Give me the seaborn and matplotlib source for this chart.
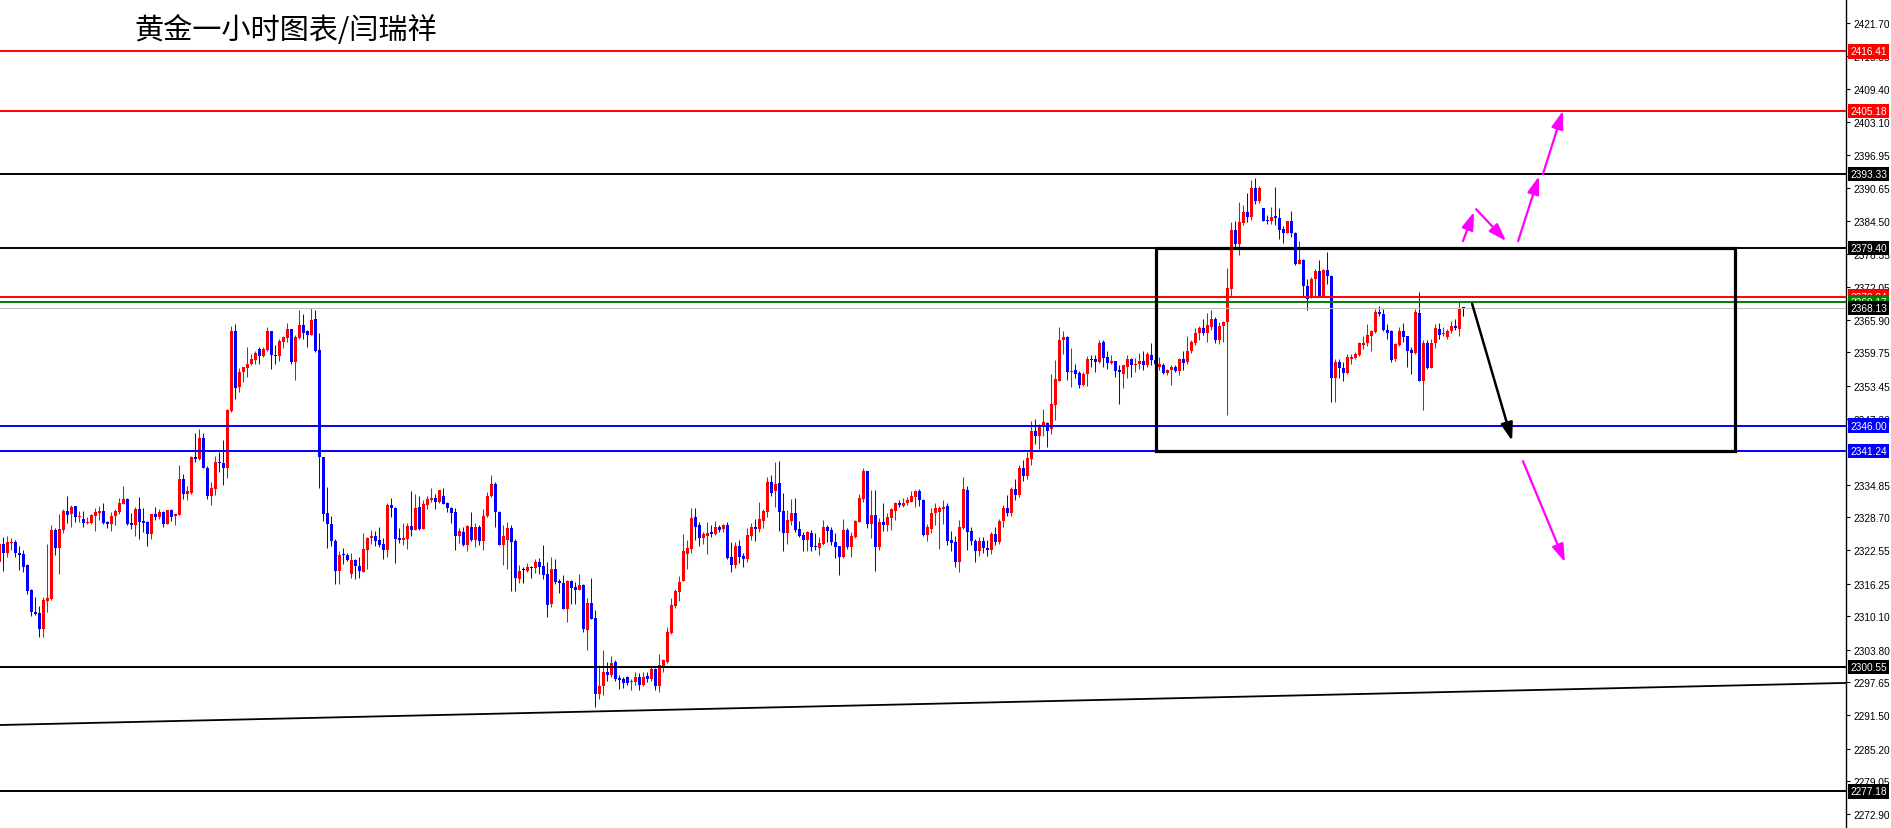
import numpy as np
import matplotlib
matplotlib.use("Agg")
import matplotlib.pyplot as plt
import matplotlib.transforms as mtransforms
from matplotlib.patches import Rectangle
import seaborn as sns

# 黄金 1小时K线 (读图估值)
opens = [
    2320.3, 2323.7, 2322.0, 2323.9, 2324.0, 2322.1, 2321.8, 2319.8, 2315.1, 2311.0,
    2310.7, 2307.8, 2312.9, 2313.4, 2326.4, 2323.0, 2326.4, 2329.9, 2329.3, 2330.8,
    2328.8, 2328.4, 2327.7, 2327.7, 2329.0, 2329.5, 2329.9, 2327.9, 2327.5, 2328.9,
    2329.7, 2331.3, 2332.2, 2327.7, 2327.3, 2330.2, 2328.0, 2327.8, 2325.6, 2329.4,
    2328.8, 2329.7, 2327.5, 2330.1, 2328.9, 2329.2, 2335.9, 2333.2, 2333.3, 2340.0,
    2339.7, 2343.7, 2338.1, 2332.8, 2334.1, 2339.2, 2339.0, 2338.1, 2348.7, 2363.7,
    2353.3, 2356.0, 2356.8, 2357.6, 2358.4, 2360.4, 2359.0, 2360.3, 2363.7, 2359.3,
    2359.0, 2361.8, 2362.4, 2364.2, 2358.0, 2362.5, 2364.9, 2363.7, 2363.1, 2366.1,
    2360.2, 2340.0, 2329.5, 2327.4, 2324.2, 2318.7, 2321.8, 2321.6, 2318.1, 2320.7,
    2319.6, 2318.5, 2322.6, 2324.8, 2325.2, 2324.5, 2323.7, 2322.6, 2331.1, 2330.5,
    2324.8, 2324.5, 2324.7, 2327.1, 2326.4, 2330.6, 2326.5, 2331.1, 2331.9, 2332.3,
    2331.6, 2332.7, 2331.5, 2330.5, 2329.8, 2325.3, 2326.0, 2323.6, 2327.0, 2324.5,
    2326.9, 2324.3, 2328.9, 2332.7, 2335.0, 2329.7, 2323.6, 2324.5, 2326.7, 2324.3,
    2317.1, 2318.75, 2318.7, 2319.4, 2319.2, 2320.4, 2319.6, 2318.1, 2312.4, 2319.0,
    2316.8, 2316.4, 2311.5, 2316.8, 2315.7, 2315.1, 2316.0, 2307.6, 2312.6, 2309.8,
    2295.5, 2297.0, 2299.7, 2299.1, 2301.6, 2298.5, 2298.3, 2298.6, 2297.7, 2297.7,
    2298.6, 2297.2, 2298.8, 2298.4, 2300.1, 2297.0, 2300.8, 2301.6, 2306.9, 2312.0,
    2314.7, 2316.8, 2321.8, 2322.8, 2328.8, 2327.2, 2324.8, 2325.3, 2325.9, 2325.6,
    2327.0, 2326.5, 2327.3, 2321.2, 2319.8, 2323.3, 2321.5, 2320.8, 2325.3, 2326.9,
    2326.5, 2328.1, 2329.8, 2335.3, 2333.6, 2335.1, 2329.9, 2325.8, 2328.1, 2329.5,
    2326.5, 2325.4, 2324.5, 2325.8, 2323.4, 2323.0, 2323.7, 2327.0, 2326.4, 2324.0,
    2323.3, 2321.2, 2326.4, 2323.1, 2325.0, 2327.9, 2332.2, 2337.4, 2327.4, 2329.2,
    2323.2, 2327.8, 2327.2, 2328.6, 2330.0, 2331.4, 2330.8, 2331.4, 2331.7, 2332.6,
    2333.7, 2332.0, 2325.4, 2326.5, 2329.5, 2329.8, 2330.3, 2330.8, 2324.5, 2324.0,
    2320.4, 2326.7, 2333.9, 2326.1, 2324.2, 2322.3, 2324.2, 2323.0, 2322.5, 2325.5,
    2324.0, 2328.0, 2330.5, 2329.5, 2334.0, 2333.0, 2338.0, 2336.5, 2339.7, 2345.0,
    2344.1, 2345.9, 2346.5, 2345.4, 2349.9, 2354.4, 2362.0, 2362.7, 2356.1, 2356.5,
    2355.9, 2353.6, 2355.6, 2358.5, 2358.5, 2358.0, 2361.7, 2358.8, 2357.7, 2358.2,
    2356.5, 2355.7, 2357.1, 2358.5, 2357.3, 2357.5, 2358.2, 2357.3, 2359.3, 2358.4,
    2357.0, 2357.4, 2355.8, 2356.5, 2357.0, 2356.3, 2358.5, 2357.9, 2360.0, 2361.5,
    2363.5, 2364.4, 2363.5, 2364.6, 2366.0, 2362.0, 2364.8, 2365.4, 2371.6, 2382.8,
    2380.2, 2384.1, 2386.2, 2385.3, 2390.7, 2388.2, 2386.9, 2384.7, 2384.4, 2385.4,
    2385.0, 2383.0, 2382.3, 2384.4, 2382.3, 2376.4, 2377.1, 2372.3, 2370.1, 2373.6,
    2375.1, 2370.1, 2375.3, 2374.2, 2354.9, 2357.9, 2356.8, 2355.8, 2358.6, 2358.7,
    2359.3, 2361.2, 2361.5, 2362.9, 2363.6, 2367.4, 2367.0, 2364.0, 2363.8, 2358.5,
    2361.2, 2363.8, 2362.8, 2360.2, 2359.6, 2367.2, 2354.4, 2361.6, 2356.8, 2361.5,
    2364.2, 2363.2, 2362.7, 2363.8, 2364.8, 2364.2, 2368.1,
]
highs = [
    2324.0, 2325.1, 2325.2, 2324.8, 2324.5, 2323.4, 2322.5, 2319.9, 2315.2, 2313.7,
    2312.1, 2313.7, 2323.7, 2327.3, 2326.8, 2329.4, 2330.3, 2332.7, 2331.1, 2330.9,
    2330.0, 2329.9, 2328.7, 2329.4, 2330.4, 2330.8, 2331.4, 2328.1, 2329.7, 2330.3,
    2332.4, 2334.6, 2332.4, 2329.5, 2330.6, 2332.5, 2330.5, 2328.1, 2329.4, 2330.7,
    2330.3, 2329.9, 2330.1, 2330.2, 2329.4, 2338.6, 2336.9, 2334.7, 2340.3, 2344.6,
    2345.3, 2344.6, 2338.3, 2335.3, 2340.3, 2341.0, 2343.3, 2349.1, 2364.8, 2365.1,
    2356.8, 2357.1, 2360.7, 2359.5, 2360.1, 2360.7, 2360.8, 2364.6, 2363.8, 2361.2,
    2362.2, 2362.9, 2365.3, 2364.2, 2363.0, 2367.7, 2367.0, 2363.9, 2368.2, 2367.7,
    2363.4, 2340.1, 2334.4, 2328.9, 2324.7, 2322.3, 2323.0, 2322.1, 2322.1, 2320.9,
    2321.2, 2325.8, 2325.0, 2326.4, 2326.1, 2326.9, 2324.8, 2331.4, 2332.3, 2330.6,
    2326.8, 2327.7, 2327.7, 2333.6, 2333.2, 2332.7, 2331.9, 2332.7, 2334.2, 2333.1,
    2333.9, 2334.3, 2331.7, 2330.6, 2330.4, 2326.7, 2327.0, 2327.3, 2329.7, 2327.7,
    2327.3, 2330.2, 2333.4, 2336.7, 2335.3, 2330.0, 2327.2, 2327.8, 2327.3, 2324.6,
    2319.8, 2319.3, 2320.1, 2319.6, 2320.9, 2321.0, 2323.6, 2320.4, 2321.2, 2320.8,
    2317.2, 2317.9, 2316.9, 2317.0, 2316.5, 2318.1, 2316.1, 2313.5, 2317.4, 2311.2,
    2301.0, 2303.8, 2301.6, 2302.7, 2301.8, 2299.1, 2298.6, 2298.9, 2298.3, 2299.7,
    2299.4, 2299.7, 2299.7, 2300.8, 2300.4, 2303.0, 2302.1, 2308.0, 2313.5, 2315.2,
    2317.6, 2325.5, 2324.5, 2330.4, 2330.5, 2327.8, 2325.9, 2327.8, 2327.3, 2328.0,
    2327.3, 2327.5, 2327.9, 2324.0, 2324.0, 2324.5, 2322.1, 2326.7, 2327.7, 2328.4,
    2331.6, 2330.3, 2336.3, 2336.7, 2339.1, 2339.3, 2333.3, 2330.1, 2332.2, 2332.4,
    2328.0, 2325.9, 2326.1, 2326.4, 2325.7, 2325.0, 2328.3, 2327.2, 2327.0, 2325.8,
    2323.4, 2328.5, 2326.7, 2325.9, 2328.3, 2333.1, 2338.0, 2337.5, 2333.9, 2333.9,
    2328.6, 2331.4, 2329.5, 2330.4, 2331.6, 2332.0, 2332.3, 2332.5, 2333.6, 2333.9,
    2334.1, 2332.2, 2327.5, 2330.5, 2331.4, 2330.9, 2332.0, 2331.4, 2326.1, 2325.2,
    2328.3, 2336.4, 2334.6, 2327.0, 2324.7, 2325.0, 2325.0, 2324.5, 2326.0, 2327.0,
    2328.5, 2331.0, 2333.0, 2334.5, 2336.0, 2338.5, 2339.5, 2341.0, 2346.9, 2347.2,
    2346.3, 2349.1, 2346.6, 2355.7, 2358.3, 2364.6, 2363.7, 2362.9, 2360.6, 2357.6,
    2356.3, 2356.0, 2359.0, 2359.3, 2359.2, 2362.1, 2362.0, 2360.0, 2359.3, 2358.2,
    2357.3, 2357.4, 2359.3, 2358.7, 2358.7, 2359.7, 2360.0, 2359.8, 2361.5, 2359.2,
    2358.8, 2357.8, 2356.6, 2357.3, 2357.4, 2358.7, 2360.0, 2362.9, 2362.0, 2364.4,
    2364.8, 2366.0, 2367.2, 2367.7, 2366.4, 2365.5, 2365.7, 2375.6, 2384.2, 2384.5,
    2388.1, 2387.5, 2389.7, 2392.2, 2392.6, 2391.1, 2387.0, 2385.7, 2387.2, 2390.8,
    2386.9, 2383.6, 2384.5, 2386.3, 2382.5, 2380.8, 2377.3, 2373.6, 2373.9, 2375.4,
    2377.2, 2375.4, 2378.7, 2374.3, 2358.5, 2358.5, 2357.9, 2359.5, 2359.5, 2359.8,
    2361.8, 2362.9, 2365.1, 2364.0, 2367.9, 2368.5, 2367.9, 2365.1, 2364.0, 2361.6,
    2364.5, 2365.3, 2362.9, 2360.7, 2367.9, 2371.1, 2362.0, 2362.0, 2362.2, 2365.1,
    2365.3, 2364.5, 2364.2, 2365.7, 2366.0, 2369.5, 2368.3,
]
lows = [
    2320.1, 2318.7, 2321.2, 2322.6, 2321.2, 2318.9, 2318.4, 2314.3, 2310.2, 2310.4,
    2306.2, 2306.2, 2311.0, 2313.2, 2321.6, 2318.1, 2325.8, 2327.7, 2327.0, 2327.9,
    2327.8, 2327.0, 2327.5, 2327.5, 2326.1, 2328.3, 2327.4, 2326.8, 2326.2, 2327.2,
    2329.4, 2331.2, 2327.2, 2326.5, 2325.3, 2324.7, 2326.0, 2323.3, 2324.7, 2328.3,
    2328.5, 2327.0, 2327.4, 2328.1, 2327.2, 2329.2, 2332.2, 2331.9, 2333.1, 2339.2,
    2339.6, 2338.0, 2332.1, 2331.1, 2332.9, 2337.3, 2334.8, 2336.1, 2348.5, 2350.9,
    2352.4, 2354.1, 2355.1, 2357.3, 2357.6, 2357.6, 2358.8, 2360.1, 2356.6, 2357.6,
    2358.2, 2360.5, 2361.8, 2357.5, 2354.6, 2362.3, 2362.3, 2360.8, 2363.0, 2359.8,
    2334.3, 2328.1, 2322.9, 2323.3, 2316.2, 2316.2, 2320.0, 2320.5, 2317.3, 2317.1,
    2317.4, 2318.4, 2319.0, 2323.7, 2323.3, 2323.1, 2320.9, 2321.3, 2328.7, 2320.1,
    2323.9, 2323.5, 2322.8, 2325.2, 2326.3, 2326.4, 2326.5, 2330.2, 2331.6, 2330.3,
    2331.4, 2331.2, 2329.8, 2327.7, 2322.6, 2323.9, 2323.3, 2322.3, 2324.3, 2323.1,
    2323.5, 2322.5, 2328.7, 2332.5, 2327.0, 2323.5, 2319.8, 2319.0, 2314.9, 2314.9,
    2316.3, 2316.4, 2318.4, 2317.3, 2318.2, 2318.1, 2317.2, 2310.0, 2311.9, 2316.2,
    2314.5, 2311.4, 2309.1, 2312.4, 2312.4, 2315.0, 2307.2, 2303.8, 2309.6, 2293.1,
    2294.5, 2295.3, 2298.0, 2298.7, 2298.0, 2296.4, 2296.6, 2297.2, 2296.3, 2297.2,
    2296.3, 2297.0, 2297.7, 2298.0, 2296.2, 2295.9, 2299.6, 2301.4, 2306.8, 2311.6,
    2312.9, 2316.7, 2319.0, 2322.0, 2324.5, 2323.4, 2323.8, 2321.8, 2325.1, 2325.4,
    2325.9, 2326.0, 2320.9, 2318.5, 2319.1, 2320.1, 2319.3, 2320.4, 2324.5, 2324.3,
    2326.0, 2326.7, 2328.7, 2332.8, 2330.6, 2326.2, 2322.3, 2323.7, 2327.2, 2326.0,
    2325.0, 2322.4, 2322.3, 2322.3, 2322.6, 2321.7, 2323.5, 2324.0, 2323.5, 2321.1,
    2317.9, 2321.0, 2322.8, 2321.3, 2324.8, 2327.8, 2331.7, 2326.7, 2324.9, 2318.7,
    2322.5, 2326.2, 2326.2, 2326.4, 2328.3, 2330.6, 2330.6, 2331.1, 2331.6, 2330.7,
    2330.8, 2325.2, 2324.3, 2325.7, 2327.2, 2322.8, 2327.5, 2323.5, 2322.3, 2319.4,
    2318.5, 2326.5, 2322.5, 2323.6, 2320.3, 2321.5, 2322.0, 2321.5, 2321.8, 2323.5,
    2323.8, 2327.0, 2329.0, 2329.0, 2332.0, 2332.5, 2335.5, 2336.0, 2338.5, 2342.5,
    2341.6, 2344.1, 2342.0, 2344.4, 2347.1, 2354.3, 2359.5, 2354.6, 2353.3, 2354.9,
    2353.1, 2353.5, 2353.5, 2357.1, 2356.0, 2357.8, 2357.0, 2356.6, 2357.6, 2355.1,
    2350.1, 2353.1, 2354.9, 2355.2, 2356.0, 2356.6, 2356.5, 2357.1, 2357.4, 2356.9,
    2356.5, 2355.7, 2355.5, 2353.6, 2356.0, 2355.5, 2356.4, 2357.6, 2359.7, 2361.2,
    2362.1, 2363.1, 2361.8, 2364.0, 2361.5, 2361.3, 2361.8, 2348.0, 2370.1, 2379.2,
    2378.0, 2383.7, 2384.2, 2384.7, 2387.7, 2387.8, 2384.4, 2383.9, 2383.9, 2383.7,
    2381.0, 2380.3, 2382.2, 2381.4, 2376.2, 2376.3, 2370.1, 2367.8, 2369.9, 2370.1,
    2370.1, 2370.1, 2372.6, 2350.5, 2350.5, 2354.9, 2354.4, 2355.7, 2357.6, 2358.5,
    2359.1, 2360.4, 2360.9, 2360.1, 2363.5, 2366.7, 2363.7, 2362.2, 2357.9, 2358.1,
    2361.0, 2361.8, 2357.1, 2355.7, 2359.5, 2354.3, 2349.0, 2356.6, 2356.8, 2360.6,
    2362.3, 2362.9, 2362.3, 2363.5, 2364.0, 2362.9, 2366.7,
]
closes = [
    2323.7, 2322.0, 2324.0, 2324.1, 2322.0, 2321.6, 2319.4, 2314.9, 2310.9, 2310.6,
    2307.8, 2313.1, 2313.5, 2326.4, 2322.9, 2326.5, 2329.9, 2329.2, 2330.7, 2328.8,
    2328.9, 2327.7, 2327.9, 2329.1, 2329.7, 2329.9, 2327.7, 2327.5, 2328.9, 2329.9,
    2331.4, 2332.2, 2327.5, 2327.3, 2330.2, 2327.9, 2327.7, 2325.6, 2329.4, 2328.8,
    2329.7, 2327.5, 2330.1, 2328.8, 2329.4, 2335.9, 2333.1, 2333.6, 2340.0, 2339.7,
    2343.7, 2338.1, 2332.8, 2334.2, 2339.1, 2338.9, 2338.1, 2348.9, 2363.7, 2353.1,
    2356.0, 2357.0, 2357.5, 2358.5, 2359.7, 2359.0, 2360.4, 2363.7, 2359.2, 2359.0,
    2361.9, 2362.7, 2364.2, 2358.0, 2362.7, 2364.9, 2363.5, 2363.1, 2365.9, 2360.0,
    2340.0, 2329.4, 2327.4, 2324.2, 2318.7, 2321.6, 2321.6, 2320.7, 2320.7, 2319.5,
    2318.7, 2322.8, 2324.8, 2325.3, 2324.3, 2323.6, 2322.6, 2331.1, 2330.4, 2324.7,
    2324.5, 2324.8, 2327.1, 2326.4, 2330.5, 2326.5, 2331.2, 2332.1, 2332.4, 2331.6,
    2333.9, 2331.3, 2330.4, 2329.5, 2325.3, 2326.1, 2323.6, 2327.1, 2324.5, 2326.9,
    2324.3, 2329.0, 2332.7, 2335.0, 2329.7, 2323.6, 2325.3, 2326.7, 2324.1, 2317.3,
    2318.7, 2318.75, 2319.3, 2319.1, 2320.4, 2319.4, 2317.9, 2312.2, 2319.0, 2316.6,
    2316.3, 2311.5, 2316.8, 2315.4, 2315.1, 2316.0, 2307.7, 2312.6, 2309.6, 2295.5,
    2297.0, 2299.7, 2299.1, 2301.4, 2298.4, 2298.1, 2297.5, 2297.5, 2298.0, 2298.7,
    2297.2, 2298.7, 2298.3, 2300.2, 2297.0, 2300.9, 2301.9, 2307.2, 2312.2, 2314.9,
    2316.6, 2322.3, 2323.0, 2328.6, 2327.0, 2324.8, 2325.6, 2325.8, 2325.6, 2327.0,
    2326.4, 2327.3, 2321.1, 2319.8, 2323.3, 2321.3, 2320.8, 2325.4, 2326.9, 2326.5,
    2328.4, 2329.9, 2335.3, 2333.3, 2335.0, 2329.8, 2325.8, 2328.2, 2329.5, 2326.4,
    2325.3, 2324.5, 2325.9, 2323.2, 2323.2, 2323.9, 2327.0, 2326.2, 2324.0, 2323.2,
    2321.3, 2326.3, 2323.1, 2325.3, 2328.0, 2332.3, 2337.4, 2327.4, 2329.2, 2323.2,
    2327.9, 2327.2, 2328.7, 2330.2, 2331.4, 2331.1, 2331.4, 2331.9, 2332.7, 2333.6,
    2331.9, 2325.4, 2326.9, 2329.5, 2330.5, 2330.4, 2330.6, 2324.3, 2323.9, 2320.3,
    2327.0, 2334.1, 2326.0, 2324.2, 2322.3, 2324.2, 2323.0, 2322.5, 2325.5, 2324.0,
    2328.0, 2330.5, 2329.5, 2334.0, 2333.0, 2338.0, 2336.5, 2339.9, 2345.0, 2344.1,
    2346.0, 2346.6, 2344.9, 2350.1, 2354.8, 2362.1, 2362.6, 2356.1, 2356.3, 2355.7,
    2353.6, 2355.7, 2358.5, 2358.4, 2358.0, 2361.5, 2358.7, 2357.7, 2358.2, 2356.3,
    2356.0, 2357.3, 2358.5, 2357.3, 2357.6, 2358.2, 2357.3, 2359.5, 2358.4, 2357.6,
    2357.6, 2355.8, 2356.5, 2357.0, 2356.3, 2358.5, 2357.8, 2360.0, 2361.7, 2363.5,
    2364.4, 2363.5, 2365.0, 2366.0, 2362.0, 2364.8, 2365.5, 2371.8, 2382.8, 2380.2,
    2384.2, 2386.2, 2385.3, 2390.7, 2388.3, 2390.6, 2384.5, 2384.4, 2385.3, 2385.0,
    2382.8, 2382.3, 2384.4, 2382.3, 2376.4, 2377.1, 2372.3, 2369.8, 2373.6, 2375.1,
    2370.1, 2375.3, 2374.1, 2354.9, 2357.9, 2356.8, 2355.8, 2358.8, 2358.8, 2359.5,
    2361.5, 2361.6, 2363.1, 2363.7, 2367.3, 2366.9, 2364.0, 2363.5, 2358.4, 2361.3,
    2363.8, 2362.6, 2360.1, 2359.6, 2367.3, 2354.4, 2361.6, 2356.8, 2361.6, 2364.3,
    2363.1, 2363.4, 2363.8, 2364.8, 2364.3, 2367.9, 2368.1,
]

# 水平线 (价格, 颜色)
level_prices = [2416.41, 2405.18, 2393.33, 2379.40, 2370.24, 2369.17, 2368.13,
                2346.00, 2341.24, 2300.55, 2277.18]
level_colors = ['#FF0000', '#FF0000', '#000000', '#000000', '#FF0000', '#008000',
                '#C0C0C0', '#0000FF', '#0000FF', '#000000', '#000000']
label_colors = ['#FF0000', '#FF0000', '#000000', '#000000', '#FF0000', '#008000',
                '#000000', '#0000FF', '#0000FF', '#000000', '#000000']

tick_labels = ['2421.70', '2415.55', '2409.40', '2403.10', '2396.95', '2390.65',
               '2384.50', '2378.35', '2372.05', '2365.90', '2359.75', '2353.45',
               '2347.30', '2334.85', '2328.70', '2322.55', '2316.25', '2310.10',
               '2303.80', '2297.65', '2291.50', '2285.20', '2279.05', '2272.90']

# 趋势线, 矩形, 箭头 (K线序号, 价格)
trend_x = [0.17, 461.67]
trend_y = [2289.65, 2297.57]
box_x = [289.2, 433.9]
box_y = [2341.24, 2379.40]
magenta_arrows = [
    ((365.9, 2380.7), (368.7, 2386.2)),
    ((369.2, 2386.7), (376.7, 2380.7)),
    ((379.7, 2380.7), (384.9, 2392.9)),
    ((385.9, 2393.3), (390.9, 2405.2)),
    ((380.9, 2339.3), (391.4, 2320.3)),
]
black_arrow = ((368.2, 2368.9), (378.2, 2343.1))

title = "黄金一小时图表/闫瑞祥"

assert len(opens) == len(highs) == len(lows) == len(closes)

sns.set_theme(style="white")
plt.rcParams['font.family'] = ['Noto Sans CJK SC', 'DejaVu Sans']

W, H = 1891, 829
fig = plt.figure(figsize=(W / 100, H / 100), dpi=100, facecolor='white')
ax = fig.add_axes([0, 0, 1846 / W, 1])
ax.set_facecolor('white')

o = np.array(opens)
h = np.array(highs)
l = np.array(lows)
c = np.array(closes)
x = np.arange(len(o))
cols = np.where(c > o, '#FF0000', np.where(c < o, '#0000FF', '#000000'))

# K线: 影线 + 实体
ax.vlines(x, l, h, colors=cols, linewidth=0.75, zorder=3)
body_low = np.minimum(o, c)
body_h = np.maximum(np.abs(c - o), 0.2)
ax.bar(x, body_h, bottom=body_low, width=0.75, color=cols, linewidth=0, zorder=3)

for p, col in zip(level_prices, level_colors):
    lw = 0.8 if col == '#C0C0C0' else 1.4
    ax.axhline(p, color=col, linewidth=lw, zorder=4)

ax.plot(trend_x, trend_y, color='black', linewidth=1.3, zorder=4)

ax.add_patch(Rectangle((box_x[0], box_y[0]), box_x[1] - box_x[0], box_y[1] - box_y[0],
                       fill=False, edgecolor='black', linewidth=2.3, zorder=5))

for start, end in magenta_arrows:
    ax.annotate("", xy=end, xytext=start,
                arrowprops=dict(arrowstyle="-|>,head_length=0.9,head_width=0.3",
                                color='#FF00FF', lw=1.6, shrinkA=0, shrinkB=0,
                                mutation_scale=12),
                zorder=6)
ax.annotate("", xy=black_arrow[1], xytext=black_arrow[0],
            arrowprops=dict(arrowstyle="-|>,head_length=0.9,head_width=0.3",
                            color='black', lw=1.8, shrinkA=0, shrinkB=0,
                            mutation_scale=12),
            zorder=6)

ax.set_xlim(0.17, 461.67)
ax.set_ylim(2426.25 - H * 0.18815, 2426.25)

ax.set_xticks([])
ax.yaxis.tick_right()
ax.set_yticks([float(t) for t in tick_labels])
ax.set_yticklabels(tick_labels, fontsize=7.3, family='Liberation Sans')
ax.tick_params(axis='y', direction='out', length=3, width=0.8, pad=2,
               colors='black', right=True, left=False)
for side in ['left', 'top', 'bottom']:
    ax.spines[side].set_visible(False)
ax.spines['right'].set_color('black')
ax.spines['right'].set_linewidth(1.0)

# 右侧价格标签
trans = mtransforms.blended_transform_factory(ax.transAxes, ax.transData)
for p, col in zip(level_prices, label_colors):
    ax.text(1 + 4 / 1846, p, f"{p:.2f}", transform=trans, ha='left', va='center',
            fontsize=7.3, family='Liberation Sans', color='white', clip_on=False,
            zorder=10,
            bbox=dict(boxstyle='square,pad=0.22', fc=col, ec='none'))

fig.text(134 / W, 1 - 31 / H, title, fontsize=21, ha='left', va='center',
         color='black', family=['Noto Sans CJK SC', 'DejaVu Sans'])

fig.savefig("out.png", dpi=100, facecolor='white')
